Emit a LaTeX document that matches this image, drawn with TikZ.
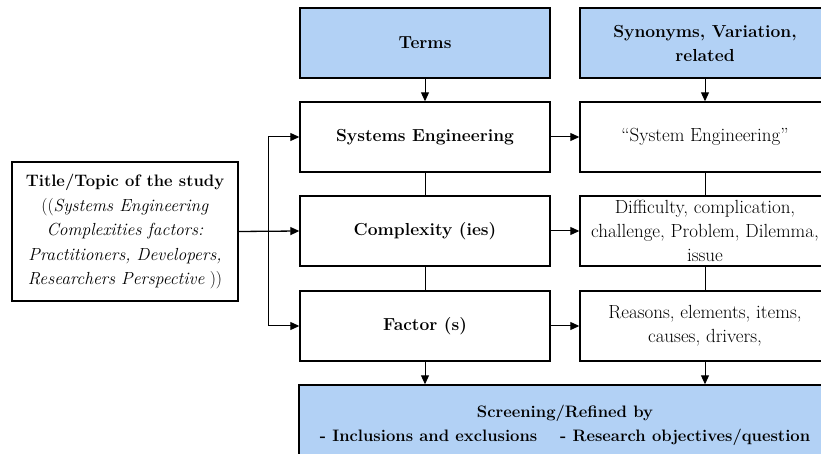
\documentclass[tikz,border=0pt]{standalone}
\usetikzlibrary{arrows.meta}
\definecolor{boxblue}{RGB}{178,209,245}
\newcommand\fsreg{\fontsize{19bp}{24bp}\selectfont}
\newcommand\fsbold{\fontsize{17.4bp}{24bp}\selectfont\bfseries}
\newcommand\fsboldsm{\fontsize{16.6bp}{24bp}\selectfont\bfseries}
\newcommand\fsit{\fontsize{17.5bp}{24.5bp}\selectfont}
\begin{document}
\begin{tikzpicture}[x=1bp,y=-1bp,
  box/.style={draw, line width=1.4bp, minimum width=250bp, minimum height=70bp,
    align=center, inner sep=1bp, font=\fsreg},
  head/.style={box, fill=boxblue, font=\fsbold},
  term/.style={box, font=\fsbold},
  conn/.style={line width=1bp},
  arr/.style={conn, -{Triangle[length=9bp,width=8bp]}}
]
\useasboundingbox (0,0) rectangle (821,454);
\node[box, minimum width=226bp, minimum height=139bp, font=\fsit] (title) at (125,231.5)
  {{\fsboldsm Title/Topic of the study}\\((\textit{Systems Engineering}\\\textit{Complexities factors:}\\\textit{Practitioners, Developers,}\\\textit{Researchers Perspective} ))};
\node[head] (terms) at (425,43) {Terms};
\node[head] (syn) at (705,43) {Synonyms, Variation,\\related};
\node[term] (se) at (425,137) {Systems Engineering};
\node[box] (sysE) at (705,137) {“System Engineering”};
\node[term] (cx) at (425,231) {Complexity (ies)};
\node[box] (diff) at (705,231) {Difficulty, complication,\\challenge, Problem, Dilemma,\\issue};
\node[term] (fac) at (425,326) {Factor (s)};
\node[box] (rea) at (705,326) {Reasons, elements, items,\\causes, drivers,};
\node[head, font=\fsboldsm, minimum width=532bp, minimum height=80bp] (screen) at (565,425)
  {Screening/Refined by\\- Inclusions and exclusions\quad\ - Research objectives/question};
\coordinate (bus) at (268,231);
\draw[arr] (terms) -- (se);
\draw[arr] (syn) -- (sysE);
\draw[conn] (se) -- (cx);
\draw[conn] (cx) -- (fac);
\draw[conn] (sysE) -- (diff);
\draw[conn] (diff) -- (rea);
\draw[arr] (se) -- (sysE);
\draw[arr] (cx) -- (diff);
\draw[arr] (fac) -- (rea);
\draw[arr, line width=1.3bp] (title.east) -- (cx.west);
\draw[arr] (bus) |- (se.west);
\draw[arr] (bus) |- (fac.west);
\draw[arr] (fac.south) -- (fac.south |- screen.north);
\draw[arr] (rea.south) -- (rea.south |- screen.north);
\end{tikzpicture}
\end{document}
